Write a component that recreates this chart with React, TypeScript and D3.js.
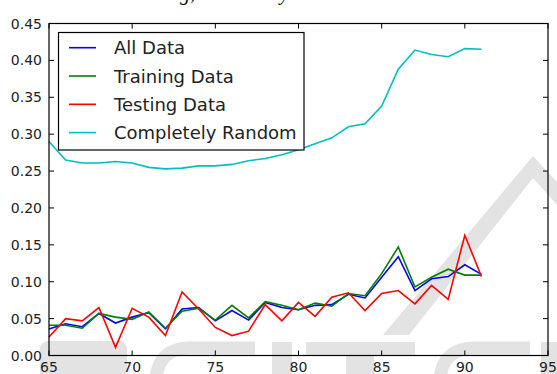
import React from "react";
import * as d3 from "d3";

const years = [65, 66, 67, 68, 69, 70, 71, 72, 73, 74, 75, 76, 77, 78, 79, 80, 81, 82, 83, 84, 85, 86, 87, 88, 89, 90, 91];
const allData = [0.036, 0.043, 0.039, 0.057, 0.044, 0.052, 0.058, 0.036, 0.063, 0.065, 0.047, 0.061, 0.048, 0.072, 0.065, 0.062, 0.068, 0.069, 0.083, 0.078, 0.106, 0.134, 0.088, 0.104, 0.107, 0.123, 0.110];
const trainingData = [0.041, 0.041, 0.037, 0.057, 0.052, 0.049, 0.059, 0.037, 0.060, 0.064, 0.048, 0.068, 0.051, 0.073, 0.068, 0.062, 0.071, 0.067, 0.084, 0.081, 0.111, 0.147, 0.093, 0.106, 0.117, 0.109, 0.109];
const testingData = [0.025, 0.050, 0.047, 0.065, 0.011, 0.064, 0.052, 0.027, 0.086, 0.063, 0.038, 0.027, 0.033, 0.069, 0.047, 0.072, 0.053, 0.079, 0.085, 0.061, 0.084, 0.088, 0.070, 0.095, 0.076, 0.163, 0.107];
const randomData = [0.290, 0.265, 0.261, 0.261, 0.263, 0.261, 0.255, 0.253, 0.254, 0.257, 0.257, 0.259, 0.264, 0.267, 0.272, 0.279, 0.287, 0.295, 0.310, 0.314, 0.338, 0.388, 0.414, 0.408, 0.405, 0.416, 0.415];

const seriesNames = ["All Data", "Training Data", "Testing Data", "Completely Random"];
const seriesColors = ["#0000ff", "#008000", "#ff0000", "#00bfbf"];
const seriesValues = [allData, trainingData, testingData, randomData];

const xTicks = [65, 70, 75, 80, 85, 90, 95];
const yTicks = [0, 0.05, 0.1, 0.15, 0.2, 0.25, 0.3, 0.35, 0.4, 0.45];

const W = 557;
const H = 374;
const M = { left: 49, right: 548, top: 23.5, bottom: 355.5 };

export default function App() {
  const x = d3.scaleLinear().domain([65, 95]).range([M.left, M.right]);
  const y = d3.scaleLinear().domain([0, 0.45]).range([M.bottom, M.top]);
  const line = d3
    .line<[number, number]>()
    .x((d) => x(d[0]))
    .y((d) => y(d[1]));

  const font = "'DejaVu Sans', sans-serif";
  const tickLen = 5;
  const wm = "#e3e3e3";

  return (
    <svg
      width={W}
      height={H}
      style={{ position: "absolute", left: 0, top: 0, background: "#fff" }}
    >
      {/* watermark */}
      <g fill={wm} stroke="none">
        <path d="M 383 335 L 409 335 L 533 178 L 557 205 L 557 182 L 533 156 Z" />
        <rect x={40} y={341} width={87} height={40} rx={8} />
        <path d="M 156 380 Q 158 348 190 348 L 255 348" fill="none" stroke={wm} strokeWidth={13} />
        <rect x={272} y={342} width={20} height={40} />
        <rect x={306} y={342} width={109} height={13} />
        <rect x={346} y={342} width={28} height={40} />
        <path d="M 440 380 Q 442 348 475 348 L 530 348" fill="none" stroke={wm} strokeWidth={13} />
        <rect x={541} y={342} width={20} height={40} />
      </g>

      {/* caption fragments cut at top */}
      <text x={180} y={0} fontFamily="'Liberation Serif', serif" fontStyle="italic" fontSize={20} fill="#111">g,</text>
      <text x={280} y={0} fontFamily="'Liberation Serif', serif" fontStyle="italic" fontSize={20} fill="#111">y</text>

      {/* series */}
      {seriesValues.map((vals, i) => (
        <path
          key={seriesNames[i]}
          d={line(years.map((yr, j) => [yr, vals[j]] as [number, number])) || ""}
          fill="none"
          stroke={seriesColors[i]}
          strokeWidth={1.6}
          strokeLinejoin="miter"
        />
      ))}

      {/* frame */}
      <rect
        x={M.left}
        y={M.top}
        width={M.right - M.left}
        height={M.bottom - M.top}
        fill="none"
        stroke="#000"
        strokeWidth={1.2}
      />

      {/* ticks */}
      {xTicks.map((t) => (
        <g key={"x" + t}>
          <line x1={x(t)} x2={x(t)} y1={M.bottom} y2={M.bottom - tickLen} stroke="#000" />
          <line x1={x(t)} x2={x(t)} y1={M.top} y2={M.top + tickLen} stroke="#000" />
          <text x={x(t)} y={372} textAnchor="middle" fontFamily={font} fontSize={14} fill="#222">
            {t}
          </text>
        </g>
      ))}
      {yTicks.map((t) => (
        <g key={"y" + t}>
          <line x1={M.left} x2={M.left + tickLen} y1={y(t)} y2={y(t)} stroke="#000" />
          <line x1={M.right} x2={M.right - tickLen} y1={y(t)} y2={y(t)} stroke="#000" />
          <text x={42} y={y(t) + 5} textAnchor="end" fontFamily={font} fontSize={14} fill="#222">
            {t.toFixed(2)}
          </text>
        </g>
      ))}

      {/* legend */}
      <g>
        <rect x={58.5} y={32.5} width={245.5} height={117.5} fill="#fff" stroke="#000" strokeWidth={1.2} />
        {seriesNames.map((name, i) => {
          const cy = 47.7 + i * 28.3;
          return (
            <g key={"lg" + name}>
              <line x1={69} x2={96} y1={cy} y2={cy} stroke={seriesColors[i]} strokeWidth={1.6} />
              <text x={114} y={cy + 6.5} fontFamily={font} fontSize={18} fill="#222">
                {name}
              </text>
            </g>
          );
        })}
      </g>
    </svg>
  );
}
